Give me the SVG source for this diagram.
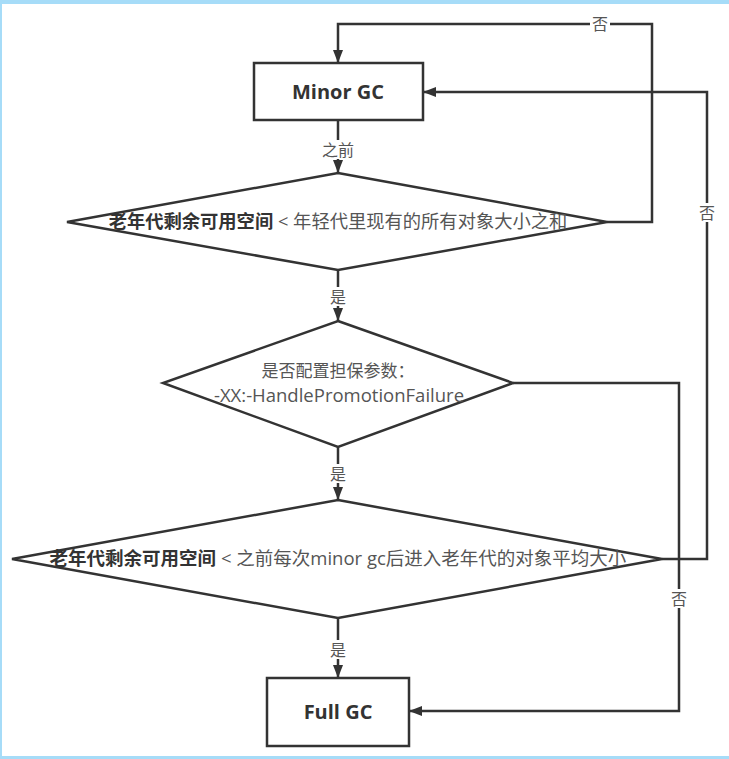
<svg xmlns="http://www.w3.org/2000/svg" width="729" height="759" viewBox="0 0 729 759">
<style>
.shape{fill:#fff;stroke:#333;stroke-width:2.5}
.wire{fill:none;stroke:#333;stroke-width:2.5}
.t{font-family:"Open Sans","Noto Sans CJK SC",sans-serif}
.title{font-size:20px;font-weight:bold;fill:#333}
.b{font-weight:bold;fill:#333}
.n{fill:#555}
.lbl{font-size:16px;fill:#555}
.bg{fill:#fff}
</style>
<defs>
<marker id="arr" markerWidth="14" markerHeight="12" refX="13" refY="6" orient="auto" markerUnits="userSpaceOnUse">
<path d="M0,1 L13,6 L0,11 Z" fill="#333"/>
</marker>
</defs>
<rect x="0" y="0" width="729" height="759" fill="#fff"/>
<rect x="0" y="0" width="729" height="4" fill="#a6dcf8"/>
<rect x="0" y="0" width="2" height="759" fill="#a6dcf8"/>
<rect x="0" y="756" width="729" height="3" fill="#a6dcf8"/>

<g id="connectors">
<path class="wire" d="M338,120 V173" marker-end="url(#arr)"/>
<path class="wire" d="M607,222 H652 V24 H338 V63" marker-end="url(#arr)"/>
<path class="wire" d="M338,270 V321" marker-end="url(#arr)"/>
<path class="wire" d="M513,383 H679 V711 H409" marker-end="url(#arr)"/>
<path class="wire" d="M338,447 V500" marker-end="url(#arr)"/>
<path class="wire" d="M662,559 H707 V92 H423" marker-end="url(#arr)"/>
<path class="wire" d="M338,618 V678" marker-end="url(#arr)"/>
<rect class="bg" x="324" y="140" width="28" height="19"/>
<text class="t lbl" x="338" y="156" text-anchor="middle">之前</text>
<rect class="bg" x="590" y="15" width="20" height="19"/>
<text class="t lbl" x="600" y="30" text-anchor="middle">否</text>
<rect class="bg" x="698" y="203" width="18" height="19"/>
<text class="t lbl" x="707" y="219" text-anchor="middle">否</text>
<rect class="bg" x="329" y="287" width="18" height="19"/>
<text class="t lbl" x="338" y="303" text-anchor="middle">是</text>
<rect class="bg" x="329" y="464" width="18" height="19"/>
<text class="t lbl" x="338" y="480" text-anchor="middle">是</text>
<rect class="bg" x="670" y="589" width="18" height="19"/>
<text class="t lbl" x="679" y="605" text-anchor="middle">否</text>
<rect class="bg" x="329" y="640" width="18" height="19"/>
<text class="t lbl" x="338" y="656" text-anchor="middle">是</text>
</g>

<g id="minor-gc">
<rect class="shape" x="254" y="63" width="169" height="57"/>
<text class="t title" x="338" y="99" text-anchor="middle">Minor GC</text>
</g>

<g id="check-young">
<polygon class="shape" points="338,173 607,222 338,270 67,222"/>
<text class="t" x="338" y="228" font-size="18.3" text-anchor="middle"><tspan class="b">老年代剩余可用空间</tspan><tspan class="n"> &lt; 年轻代里现有的所有对象大小之和</tspan></text>
</g>

<g id="check-param">
<polygon class="shape" points="338,321 513,383 338,447 163,383"/>
<text class="t n" x="338" y="377" font-size="17" text-anchor="middle">是否配置担保参数：</text>
<text class="t n" x="339" y="402" font-size="18.5" text-anchor="middle">-XX:-HandlePromotionFailure</text>
</g>

<g id="check-avg">
<polygon class="shape" points="338,500 662,559 338,618 12,559"/>
<text class="t" x="338" y="565" font-size="18.5" text-anchor="middle"><tspan class="b">老年代剩余可用空间</tspan><tspan class="n"> &lt; 之前每次minor gc后进入老年代的对象平均大小</tspan></text>
</g>

<g id="full-gc">
<rect class="shape" x="267" y="678" width="142" height="68"/>
<text class="t title" x="338" y="719" text-anchor="middle">Full GC</text>
</g>
</svg>
